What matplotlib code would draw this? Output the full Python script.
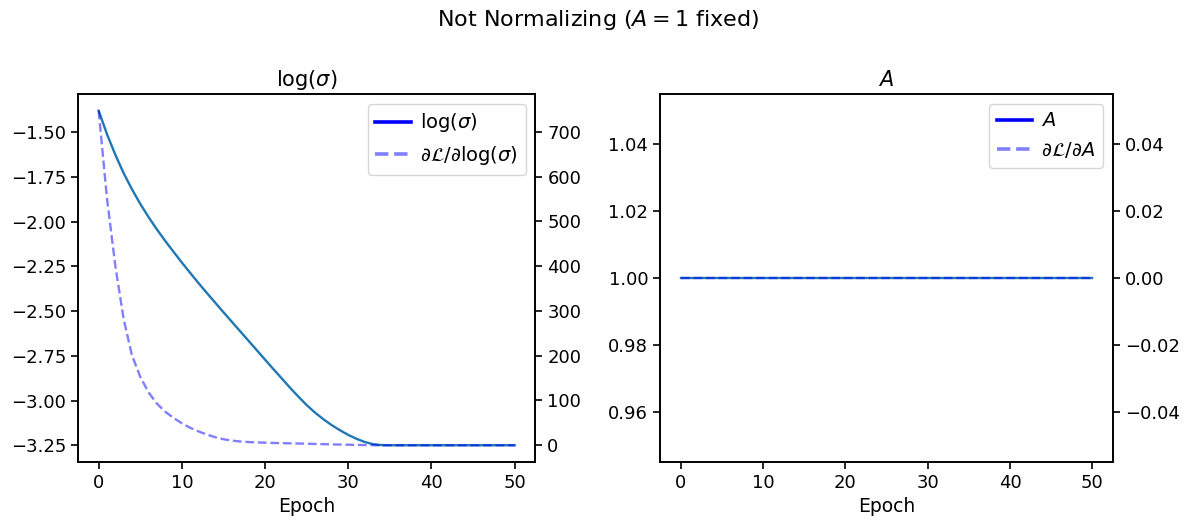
import matplotlib
matplotlib.use("Agg")
import matplotlib.pyplot as plt
from matplotlib.lines import Line2D
from matplotlib.ticker import MultipleLocator

epochs = list(range(51))
log_sigma = [-1.379, -1.510, -1.625, -1.728, -1.818, -1.900, -1.974, -2.043, -2.107,
             -2.168, -2.228, -2.286, -2.343, -2.398, -2.452, -2.506, -2.559, -2.612,
             -2.665, -2.718, -2.771, -2.824, -2.876, -2.928, -2.978, -3.025, -3.067,
             -3.104, -3.137, -3.166, -3.192, -3.214, -3.232, -3.244, -3.249] + [-3.250] * 16
grad_log_sigma = [747, 551, 401, 282, 201, 153, 118, 93, 75, 61, 49, 39, 31, 24, 18,
                  13.5, 10.5, 8.5, 7.2, 6.4, 5.8, 5.2, 4.7, 4.3, 3.9, 3.5, 3.0, 2.5,
                  2.0, 1.6, 1.2, 0.8, 0.5, 0.2, 0.05] + [0.0] * 16
A_vals = [1.0] * 51
grad_A = [0.0] * 51

TICK = 13.0
LAB = 13.5
TITLE = 15.0
LEG = 14.0
LW = 1.7

fig = plt.figure(figsize=(11.96, 5.25), dpi=100)
ax1 = fig.add_axes([0.0651, 0.12, 0.3826, 0.701])
ax3 = fig.add_axes([0.5518, 0.12, 0.3788, 0.701])
fig.suptitle(r"Not Normalizing ($A=1$ fixed)", fontsize=16, y=0.985)

leg_kw = dict(loc="upper right", fontsize=LEG, handletextpad=0.45,
              handlelength=1.85, borderpad=0.4)

# Left panel
ax1.plot(epochs, log_sigma, color="C0", lw=LW)
ax1.set_title(r"log($\sigma$)", fontsize=TITLE)
ax1.set_xlabel("Epoch", fontsize=LAB)
ax1.yaxis.set_major_locator(MultipleLocator(0.25))
ax2 = ax1.twinx()
ax2.plot(epochs, grad_log_sigma, color="b", alpha=0.5, linestyle="--", lw=LW)
ax2.yaxis.set_major_locator(MultipleLocator(100))
handles = [Line2D([], [], color="b", lw=2.6),
           Line2D([], [], color="b", lw=2.6, alpha=0.5, linestyle="--")]
ax2.legend(handles, [r"log($\sigma$)", r"$\partial\mathcal{L}/\partial$log($\sigma$)"], **leg_kw)

# Right panel
ax3.plot(epochs, A_vals, color="C0", lw=LW)
ax3.set_title(r"$A$", fontsize=TITLE)
ax3.set_xlabel("Epoch", fontsize=LAB)
ax3.yaxis.set_major_locator(MultipleLocator(0.02))
ax4 = ax3.twinx()
ax4.plot(epochs, grad_A, color="b", alpha=0.5, linestyle="--", lw=LW)
ax4.yaxis.set_major_locator(MultipleLocator(0.02))
handles2 = [Line2D([], [], color="b", lw=2.6),
            Line2D([], [], color="b", lw=2.6, alpha=0.5, linestyle="--")]
ax4.legend(handles2, [r"$A$", r"$\partial\mathcal{L}/\partial A$"], **leg_kw)

for ax in (ax1, ax2, ax3, ax4):
    ax.tick_params(labelsize=TICK, length=5, width=1.2)
    for s in ax.spines.values():
        s.set_linewidth(1.2)

fig.savefig("out.png", dpi=100)
